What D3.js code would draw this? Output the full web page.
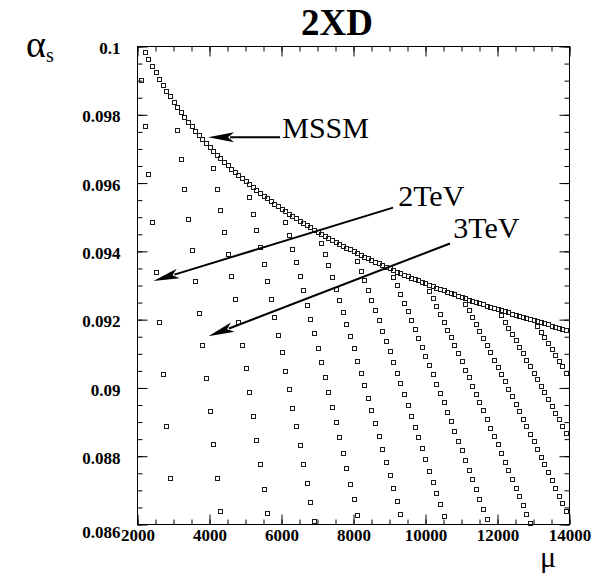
<!DOCTYPE html>
<html lang="en">
<head>
  <meta charset="UTF-8">
  <title>2XD alpha_s running</title>
  <script src="https://d3js.org/d3.v7.min.js"></script>
  <style>
    body { margin: 0; background: #fff; }
    svg text { font-family: "Liberation Serif", "Times New Roman", serif; }
  </style>
</head>
<body>
  <div id="chart"></div>
  <script>
    // axis ticks and labels
    const xMajorTicks = [2000, 4000, 6000, 8000, 10000, 12000, 14000];
    const xMinorTicks = d3.range(2000, 14001, 500);
    const yMajorTicks = [0.086, 0.088, 0.09, 0.092, 0.094, 0.096, 0.098, 0.1];
    const yTickLabels = ["0.086", "0.088", "0.09", "0.092", "0.094", "0.096", "0.098", "0.1"];
    const yMinorTicks = d3.range(0.086, 0.10001, 0.0005);

    // MSSM running of alpha_s (mu in GeV)
    const mssmMu = [2200, 2300, 2400, 2500, 2600, 2700, 2800, 2900, 3000, 3100, 3200, 3300, 3400, 3500, 3600, 3700, 3800, 3900,
      4000, 4100, 4200, 4300, 4400, 4500, 4600, 4700, 4800, 4900, 5000, 5100, 5200, 5300, 5400, 5500, 5600, 5700, 5800, 5900,
      6000, 6100, 6200, 6300, 6400, 6500, 6600, 6700, 6800, 6900, 7000, 7100, 7200, 7300, 7400, 7500, 7600, 7700, 7800, 7900,
      8000, 8100, 8200, 8300, 8400, 8500, 8600, 8700, 8800, 8900, 9000, 9100, 9200, 9300, 9400, 9500, 9600, 9700, 9800, 9900,
      10000, 10100, 10200, 10300, 10400, 10500, 10600, 10700, 10800, 10900, 11000, 11100, 11200, 11300, 11400, 11500, 11600,
      11700, 11800, 11900, 12000, 12100, 12200, 12300, 12400, 12500, 12600, 12700, 12800, 12900, 13000, 13100, 13200, 13300,
      13400, 13500, 13600, 13700, 13800, 13900];
    const mssmAlpha = [0.09982, 0.09961, 0.09940, 0.09921, 0.09902, 0.09884, 0.09867, 0.09851, 0.09835, 0.09820, 0.09805,
      0.09791, 0.09777, 0.09764, 0.09751, 0.09738, 0.09726, 0.09714, 0.09702, 0.09691, 0.09680, 0.09670, 0.09659, 0.09649,
      0.09639, 0.09630, 0.09620, 0.09611, 0.09602, 0.09593, 0.09585, 0.09576, 0.09568, 0.09560, 0.09552, 0.09544, 0.09537,
      0.09529, 0.09522, 0.09514, 0.09507, 0.09500, 0.09494, 0.09487, 0.09480, 0.09474, 0.09467, 0.09461, 0.09455, 0.09449,
      0.09443, 0.09437, 0.09431, 0.09425, 0.09419, 0.09414, 0.09408, 0.09403, 0.09397, 0.09392, 0.09387, 0.09382, 0.09377,
      0.09372, 0.09367, 0.09362, 0.09357, 0.09352, 0.09347, 0.09343, 0.09338, 0.09334, 0.09329, 0.09325, 0.09320, 0.09316,
      0.09312, 0.09307, 0.09303, 0.09299, 0.09295, 0.09291, 0.09287, 0.09283, 0.09279, 0.09275, 0.09271, 0.09267, 0.09264,
      0.09260, 0.09256, 0.09252, 0.09249, 0.09245, 0.09242, 0.09238, 0.09235, 0.09231, 0.09228, 0.09224, 0.09221, 0.09218,
      0.09214, 0.09211, 0.09208, 0.09204, 0.09201, 0.09198, 0.09195, 0.09192, 0.09189, 0.09186, 0.09183, 0.09179, 0.09176,
      0.09174, 0.09171, 0.09168];

    // running above each compactification scale, [mu, alpha_s]
    const kk2TeV = [[2100, 0.09898], [2200, 0.09764], [2300, 0.09625], [2400, 0.09482], [2500, 0.09337], [2600, 0.09189],
      [2700, 0.09038], [2800, 0.08886], [2900, 0.08733]];
    const kk3TeV = [[3100, 0.09752], [3200, 0.09668], [3300, 0.09581], [3400, 0.09492], [3500, 0.09401], [3600, 0.09310],
      [3700, 0.09216], [3800, 0.09122], [3900, 0.09026], [4000, 0.08930], [4100, 0.08832], [4200, 0.08734], [4300, 0.08636]];
    const kk4TeV = [[4100, 0.09642], [4200, 0.09581], [4300, 0.09518], [4400, 0.09455], [4500, 0.09390], [4600, 0.09324],
      [4700, 0.09258], [4800, 0.09191], [4900, 0.09123], [5000, 0.09054], [5100, 0.08984], [5200, 0.08914], [5300, 0.08844],
      [5400, 0.08773], [5500, 0.08702], [5600, 0.08630]];
    const kk5TeV = [[5100, 0.09555], [5200, 0.09507], [5300, 0.09459], [5400, 0.09409], [5500, 0.09360], [5600, 0.09309],
      [5700, 0.09258], [5800, 0.09206], [5900, 0.09153], [6000, 0.09101], [6100, 0.09047], [6200, 0.08993], [6300, 0.08939],
      [6400, 0.08885], [6500, 0.08830], [6600, 0.08774], [6700, 0.08719], [6800, 0.08663], [6900, 0.08607]];
    const kk6TeV = [[6100, 0.09483], [6200, 0.09444], [6300, 0.09405], [6400, 0.09365], [6500, 0.09324], [6600, 0.09283],
      [6700, 0.09241], [6800, 0.09200], [6900, 0.09157], [7000, 0.09115], [7100, 0.09072], [7200, 0.09028], [7300, 0.08985],
      [7400, 0.08940], [7500, 0.08896], [7600, 0.08852], [7700, 0.08807], [7800, 0.08762], [7900, 0.08716], [8000, 0.08671],
      [8100, 0.08625]];
    const kk7TeV = [[7100, 0.09422], [7200, 0.09389], [7300, 0.09356], [7400, 0.09322], [7500, 0.09288], [7600, 0.09254],
      [7700, 0.09219], [7800, 0.09184], [7900, 0.09149], [8000, 0.09113], [8100, 0.09077], [8200, 0.09041], [8300, 0.09005],
      [8400, 0.08968], [8500, 0.08931], [8600, 0.08894], [8700, 0.08856], [8800, 0.08819], [8900, 0.08781], [9000, 0.08743],
      [9100, 0.08705], [9200, 0.08666], [9300, 0.08628]];
    const kk8TeV = [[8100, 0.09369], [8200, 0.09341], [8300, 0.09312], [8400, 0.09283], [8500, 0.09254], [8600, 0.09225],
      [8700, 0.09195], [8800, 0.09165], [8900, 0.09135], [9000, 0.09104], [9100, 0.09073], [9200, 0.09042], [9300, 0.09011],
      [9400, 0.08980], [9500, 0.08948], [9600, 0.08916], [9700, 0.08884], [9800, 0.08852], [9900, 0.08820], [10000, 0.08788],
      [10100, 0.08755], [10200, 0.08722], [10300, 0.08689], [10400, 0.08656], [10500, 0.08623]];
    const kk9TeV = [[9100, 0.09323], [9200, 0.09298], [9300, 0.09273], [9400, 0.09247], [9500, 0.09222], [9600, 0.09196],
      [9700, 0.09170], [9800, 0.09144], [9900, 0.09117], [10000, 0.09091], [10100, 0.09064], [10200, 0.09037], [10300, 0.09010],
      [10400, 0.08982], [10500, 0.08955], [10600, 0.08927], [10700, 0.08899], [10800, 0.08871], [10900, 0.08843],
      [11000, 0.08815], [11100, 0.08787], [11200, 0.08758], [11300, 0.08730], [11400, 0.08701], [11500, 0.08672],
      [11600, 0.08643], [11700, 0.08614]];
    const kk10TeV = [[10100, 0.09281], [10200, 0.09259], [10300, 0.09237], [10400, 0.09214], [10500, 0.09191],
      [10600, 0.09168], [10700, 0.09145], [10800, 0.09122], [10900, 0.09099], [11000, 0.09075], [11100, 0.09051],
      [11200, 0.09028], [11300, 0.09004], [11400, 0.08979], [11500, 0.08955], [11600, 0.08931], [11700, 0.08906],
      [11800, 0.08881], [11900, 0.08857], [12000, 0.08832], [12100, 0.08807], [12200, 0.08781], [12300, 0.08756],
      [12400, 0.08731], [12500, 0.08705], [12600, 0.08680], [12700, 0.08654], [12800, 0.08628], [12900, 0.08602]];
    const kk11TeV = [[11100, 0.09244], [11200, 0.09224], [11300, 0.09204], [11400, 0.09183], [11500, 0.09163],
      [11600, 0.09142], [11700, 0.09122], [11800, 0.09101], [11900, 0.09080], [12000, 0.09059], [12100, 0.09037],
      [12200, 0.09016], [12300, 0.08995], [12400, 0.08973], [12500, 0.08951], [12600, 0.08929], [12700, 0.08907],
      [12800, 0.08885], [12900, 0.08863], [13000, 0.08841], [13100, 0.08818], [13200, 0.08796], [13300, 0.08773],
      [13400, 0.08751], [13500, 0.08728], [13600, 0.08705], [13700, 0.08682], [13800, 0.08659], [13900, 0.08636]];
    const kk12TeV = [[12100, 0.09210], [12200, 0.09191], [12300, 0.09173], [12400, 0.09155], [12500, 0.09136],
      [12600, 0.09118], [12700, 0.09099], [12800, 0.09080], [12900, 0.09061], [13000, 0.09042], [13100, 0.09023],
      [13200, 0.09003], [13300, 0.08984], [13400, 0.08964], [13500, 0.08945], [13600, 0.08925], [13700, 0.08905],
      [13800, 0.08885], [13900, 0.08865]];
    const kk13TeV = [[13100, 0.09178], [13200, 0.09162], [13300, 0.09145], [13400, 0.09128], [13500, 0.09111],
      [13600, 0.09094], [13700, 0.09077], [13800, 0.09060], [13900, 0.09042]];

    // arrow annotations in data coordinates: text anchor, arrow tail, arrow tip
    const annotations = [
      { label: "MSSM", text: [6020, 0.09733], from: [5960, 0.09734], to: [3960, 0.09734] },
      { label: "2TeV", text: [9240, 0.09534], from: [9100, 0.09528], to: [2440, 0.09313] },
      { label: "3TeV", text: [10770, 0.09438], from: [10680, 0.09423], to: [3970, 0.09151] }
    ];

    const width = 601, height = 575;
    const margin = { top: 46.5, right: 31.5, bottom: 50.5, left: 137.5 };

    const svg = d3.select("#chart").append("svg")
      .attr("width", width)
      .attr("height", height);

    const x = d3.scaleLinear().domain([2000, 14000]).range([margin.left, width - margin.right]);
    const y = d3.scaleLinear().domain([0.086, 0.1]).range([height - margin.bottom, margin.top]);

    const plotW = x.range()[1] - x.range()[0];
    const plotH = y.range()[0] - y.range()[1];

    // frame
    svg.append("rect")
      .attr("x", x.range()[0]).attr("y", y.range()[1])
      .attr("width", plotW).attr("height", plotH)
      .attr("fill", "none").attr("stroke", "#000").attr("stroke-width", 1);

    function drawAxis(axis, transform, showLabels) {
      const g = svg.append("g").attr("transform", transform).call(axis);
      g.select(".domain").remove();
      g.selectAll("line").attr("stroke", "#000");
      if (!showLabels) g.selectAll("text").remove();
      return g;
    }

    // ticks point inward on all four sides
    const bottomAxis = drawAxis(d3.axisBottom(x).tickValues(xMajorTicks).tickSize(-10).tickPadding(4).tickFormat(d3.format("d")),
      `translate(0,${y.range()[0]})`, true);
    drawAxis(d3.axisBottom(x).tickValues(xMinorTicks).tickSize(-5).tickFormat(""), `translate(0,${y.range()[0]})`, false);
    drawAxis(d3.axisTop(x).tickValues(xMajorTicks).tickSize(-10), `translate(0,${y.range()[1]})`, false);
    drawAxis(d3.axisTop(x).tickValues(xMinorTicks).tickSize(-5), `translate(0,${y.range()[1]})`, false);

    const leftAxis = drawAxis(d3.axisLeft(y).tickValues(yMajorTicks).tickSize(-10).tickPadding(17)
      .tickFormat((d, i) => yTickLabels[i]), `translate(${x.range()[0]},0)`, true);
    drawAxis(d3.axisLeft(y).tickValues(yMinorTicks).tickSize(-5).tickFormat(""), `translate(${x.range()[0]},0)`, false);
    drawAxis(d3.axisRight(y).tickValues(yMajorTicks).tickSize(-10), `translate(${x.range()[1]},0)`, false);
    drawAxis(d3.axisRight(y).tickValues(yMinorTicks).tickSize(-5), `translate(${x.range()[1]},0)`, false);

    bottomAxis.selectAll("text")
      .style("font-family", "'Liberation Serif', serif")
      .style("font-size", "17px").style("font-weight", "bold").attr("fill", "#000");
    leftAxis.selectAll("text")
      .style("font-family", "'Liberation Serif', serif")
      .style("font-size", "17px").style("font-weight", "bold").attr("fill", "#000")
      .attr("dy", (d, i) => i === 0 ? "0.75em" : "0.42em");

    // open square markers
    const allPoints = mssmMu.map((m, i) => [m, mssmAlpha[i]])
      .concat(kk2TeV, kk3TeV, kk4TeV, kk5TeV, kk6TeV, kk7TeV, kk8TeV, kk9TeV, kk10TeV, kk11TeV, kk12TeV, kk13TeV);

    svg.append("g")
      .selectAll("rect")
      .data(allPoints)
      .join("rect")
      .attr("x", d => Math.round(x(d[0])) - 1.5)
      .attr("y", d => Math.round(y(d[1])) - 2.5)
      .attr("width", 4)
      .attr("height", 4)
      .attr("fill", "none")
      .attr("stroke", "#1a1a1a")
      .attr("stroke-width", 1);

    // arrows with labels
    const ann = svg.append("g");
    annotations.forEach(a => {
      const x0 = x(a.from[0]), y0 = y(a.from[1]);
      const x1 = x(a.to[0]), y1 = y(a.to[1]);
      const len = Math.hypot(x1 - x0, y1 - y0);
      const ux = (x1 - x0) / len, uy = (y1 - y0) / len;
      const headLen = 26, headHalf = 5;
      const bx = x1 - ux * headLen, by = y1 - uy * headLen;
      ann.append("line")
        .attr("x1", x0).attr("y1", y0).attr("x2", bx + ux * 4).attr("y2", by + uy * 4)
        .attr("stroke", "#000").attr("stroke-width", 2);
      ann.append("path")
        .attr("d", `M${x1},${y1}L${bx - uy * headHalf},${by + ux * headHalf}L${bx + ux * 6},${by + uy * 6}L${bx + uy * headHalf},${by - ux * headHalf}Z`)
        .attr("fill", "#000");
      ann.append("text")
        .attr("x", x(a.text[0])).attr("y", y(a.text[1]))
        .style("font-size", "30px").attr("fill", "#000")
        .text(a.label);
    });

    // title and axis titles
    svg.append("text")
      .attr("x", 337).attr("y", 35)
      .attr("text-anchor", "middle")
      .style("font-size", "37px").style("font-weight", "bold")
      .text("2XD");

    const alphaLabel = svg.append("text").attr("x", 26).attr("y", 57).style("font-size", "38px");
    alphaLabel.append("tspan").text("α");
    alphaLabel.append("tspan").attr("dy", 5).style("font-size", "20px").text("s");

    svg.append("text")
      .attr("x", 540).attr("y", 567)
      .style("font-size", "30px")
      .text("μ");
  </script>
</body>
</html>
